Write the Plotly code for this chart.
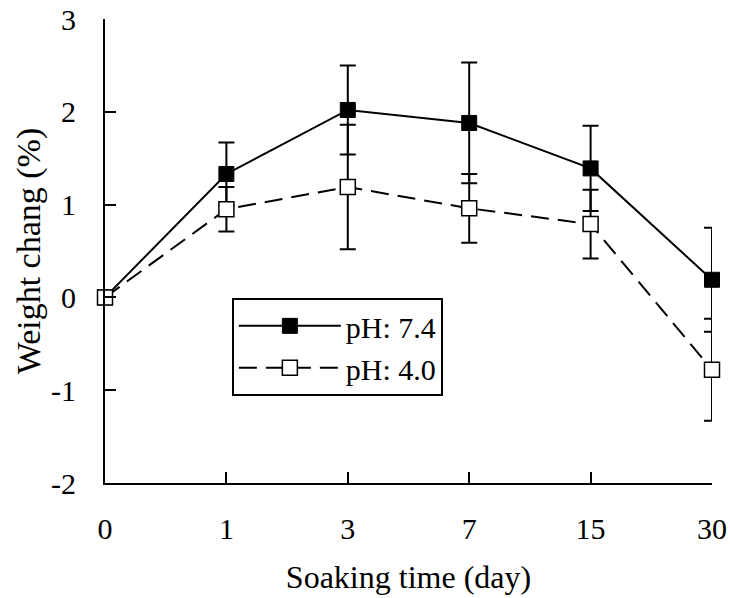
import plotly.graph_objects as go

days = ["0", "1", "3", "7", "15", "30"]
ph74 = [0.0, 1.33, 2.02, 1.88, 1.39, 0.19]
ph74_err = [0.0, 0.34, 0.48, 0.65, 0.46, 0.56]
ph40 = [0.0, 0.95, 1.19, 0.96, 0.79, -0.78]
ph40_err = [0.0, 0.24, 0.67, 0.37, 0.37, 0.55]
y_ticks = [-2, -1, 0, 1, 2, 3]
y_tick_text = ["-2", "-1", "0", "1", "2", "3"]

FONT = "Liberation Serif, Times New Roman, serif"
FS = 30
TS = 32

fig = go.Figure()
fig.add_trace(go.Scatter(
    x=days, y=ph74, name="pH: 7.4", mode="lines+markers",
    line=dict(color="black", width=2),
    marker=dict(symbol="square", size=15, color="black", line=dict(color="black", width=1)),
    error_y=dict(type="data", array=ph74_err, visible=True, color="black", thickness=2, width=8),
    cliponaxis=False,
))
fig.add_trace(go.Scatter(
    x=days, y=ph40, name="pH: 4.0", mode="lines+markers",
    line=dict(color="black", width=2, dash="18px,9px"),
    marker=dict(symbol="square", size=15, color="white", line=dict(color="black", width=1.5)),
    error_y=dict(type="data", array=ph40_err, visible=True, color="black", thickness=2, width=8),
    cliponaxis=False,
))

fig.update_layout(
    width=730, height=598,
    margin=dict(l=105, r=18, t=19, b=115),
    paper_bgcolor="white", plot_bgcolor="white",
    font=dict(family=FONT, size=FS, color="black"),
    showlegend=True,
    legend=dict(
        x=0.209, y=0.399, xanchor="left", yanchor="top",
        bgcolor="white", bordercolor="black", borderwidth=2,
        font=dict(family=FONT, size=FS, color="black"),
        itemwidth=102, tracegroupgap=0,
    ),
    xaxis=dict(
        type="category", categoryorder="array", categoryarray=days,
        range=[0, 5], showline=True, linecolor="black", linewidth=2,
        ticks="inside", ticklen=11, tickwidth=2, tickcolor="black",
        showgrid=False, zeroline=False, ticklabelstandoff=18, automargin=False,
        title=dict(text="Soaking time (day)", font=dict(size=TS, color="black"), standoff=22),
    ),
    yaxis=dict(
        range=[-2, 3], tickvals=y_ticks, ticktext=y_tick_text,
        showline=True, linecolor="black", linewidth=2,
        ticks="inside", ticklen=11, tickwidth=2, tickcolor="black",
        showgrid=False, zeroline=False, ticklabelstandoff=21, automargin=False,
        title=dict(text="Weight chang (%)", font=dict(size=34, color="black"), standoff=0),
    ),
)

# remove the browser's default page margin so the figure fills the window exactly
fig.write_html(
    "out.html",
    config={"displayModeBar": False},
    post_script="document.body.style.margin='0';document.body.style.overflow='hidden';",
)
